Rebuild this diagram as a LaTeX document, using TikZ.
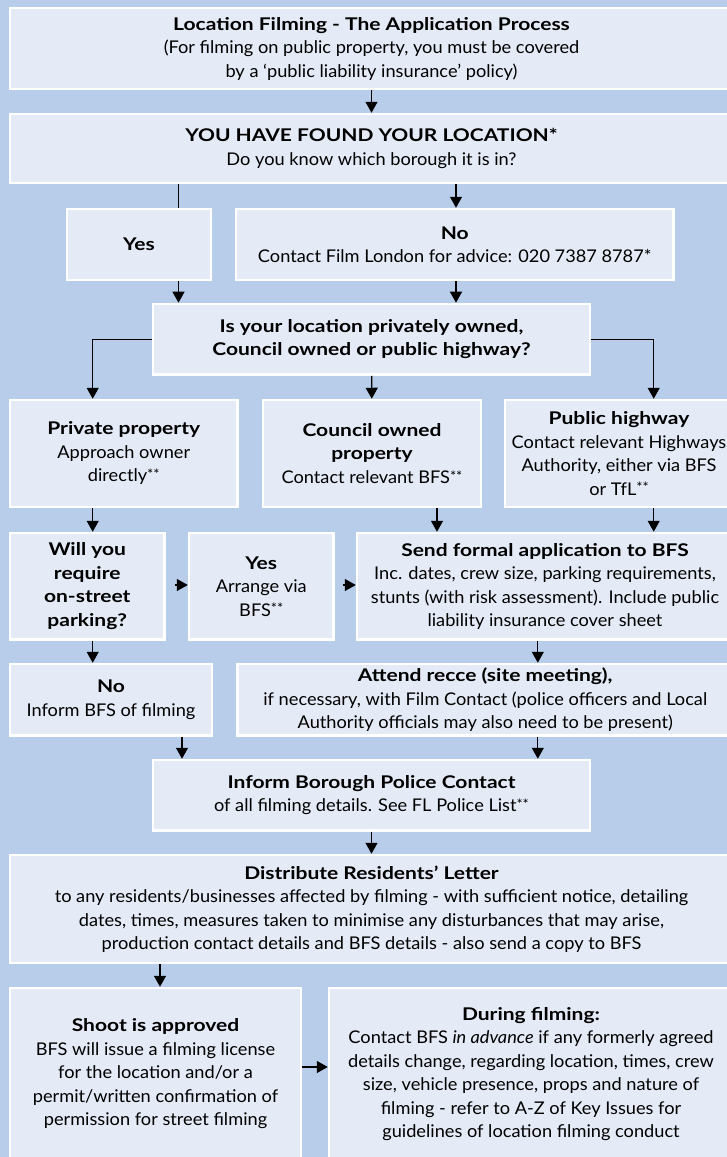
\documentclass[tikz,border=0pt]{standalone}
\usepackage{fontspec}
\setmainfont{Lato}[FakeStretch=1.04, BoldFeatures={FakeStretch=1.2}]
\usepackage{tikz}
\usetikzlibrary{arrows.meta, calc}
\usepackage{xcolor}
\definecolor{bgblue}{RGB}{184,205,234}
\definecolor{boxfill}{RGB}{228,234,246}
\newcommand{\fnmk}{\raisebox{0.25ex}{\fontsize{14}{14}\selectfont **}}

\begin{document}
\begin{tikzpicture}[
    x=1pt, y=-1pt,
    box/.style={draw=white, line width=2.5pt, fill=boxfill, align=center, inner sep=0pt,
        font=\fontsize{17.5}{23.5}\selectfont},
    line/.style={line width=1.3pt},
    arr/.style={-{Triangle[length=11pt, width=12pt]}, line width=1.3pt}
]
\path[use as bounding box, fill=bgblue] (0,0) rectangle (727,1157);
\clip (0,0) rectangle (727,1157);

\node[box, minimum width=723, minimum height=81] (title) at (371.5,48.5) {\textbf{Location Filming - The Application Process}\\(For filming on public property, you must be covered\\by a ‘public liability insurance’ policy)};
\node[box, minimum width=723, minimum height=69] (found) at (371.5,148.5) {\textbf{YOU HAVE FOUND YOUR LOCATION*}\\Do you know which borough it is in?};
\node[box, minimum width=144, minimum height=71] (yes) at (139,244.5) {\textbf{Yes}};
\node[box, minimum width=437.5, minimum height=71] (no) at (454.75,244.5) {\textbf{No}\\Contact Film London for advice: 020 7387 8787*};
\node[box, minimum width=437, minimum height=70.7] (question) at (371.5,339.3) {\textbf{Is your location privately owned,}\\\textbf{Council owned or public highway?}};
\node[box, minimum width=227.5, minimum height=107] (private) at (123.75,453.5) {\textbf{Private property}\\Approach owner\\directly\fnmk};
\node[box, minimum width=218, minimum height=107] (council) at (372,453.5) {\textbf{Council owned}\\\textbf{property}\\Contact relevant BFS\fnmk};
\node[box, minimum width=228, minimum height=107] (public) at (619,453.5) {\textbf{Public highway}\\Contact relevant Highways\\Authority, either via BFS\\or TfL\fnmk};
\node[box, minimum width=154.5, minimum height=106.5] (will) at (87.25,586.25) {\textbf{Will you}\\\textbf{require}\\\textbf{on-street}\\\textbf{parking?}};
\node[box, minimum width=144.5, minimum height=106.5] (yesbfs) at (261.25,586.25) {\textbf{Yes}\\Arrange via\\BFS\fnmk};
\node[box, minimum width=376, minimum height=106.5] (send) at (545,586.25) {\textbf{Send formal application to BFS}\\Inc. dates, crew size, parking requirements,\\stunts (with risk assessment). Include public\\liability insurance cover sheet};
\node[box, minimum width=202, minimum height=71.5] (nobfs) at (111,699.75) {\textbf{No}\\Inform BFS of filming};
\node[box, minimum width=495.5, minimum height=71.5] (recce) at (485.25,699.75) {\textbf{Attend recce (site meeting),}\\if necessary, with Film Contact (police officers and Local\\Authority officials may also need to be present)};
\node[box, minimum width=437, minimum height=70.5] (police) at (371.5,795.25) {\textbf{Inform Borough Police Contact}\\of all filming details. See FL Police List\fnmk};
\node[box, minimum width=723, minimum height=108] (letter) at (371.5,909) {\textbf{Distribute Residents’ Letter}\\to any residents/businesses affected by filming - with sufficient notice, detailing\\dates, times, measures taken to minimise any disturbances that may arise,\\production contact details and BFS details - also send a copy to BFS};
\node[box, minimum width=291, minimum height=172] (shoot) at (155.5,1074) {\textbf{Shoot is approved}\\BFS will issue a filming license\\for the location and/or a\\permit/written confirmation of\\permission for street filming};
\node[box, minimum width=404, minimum height=172] (during) at (531,1074) {\textbf{During filming:}\\Contact BFS \textit{in advance} if any formerly agreed\\details change, regarding location, times, crew\\size, vehicle presence, props and nature of\\filming - refer to A-Z of Key Issues for\\guidelines of location filming conduct};

\coordinate (colyes) at (178.5,0);
\coordinate (colno) at (456,0);
\coordinate (colpriv) at (92.7,0);
\coordinate (colcoun) at (437,0);
\coordinate (colpub) at (653.7,0);
\coordinate (colrec) at (537.8,0);
\coordinate (colnob) at (182,0);
\coordinate (colshoot) at (160,0);
\coordinate (rowpark) at (0,585);
\coordinate (wstart) at (175,0);
\coordinate (ystart) at (343,0);

\draw[arr] (title) -- (found);
\draw[line] (found.south -| colyes) -- (yes.north -| colyes);
\draw[arr] (found.south -| colno) -- (no.north -| colno);
\draw[arr] (yes.south -| colyes) -- (question.north -| colyes);
\draw[arr] (no.south -| colno) -- (question.north -| colno);
\draw[arr] (question.west) -| (private.north -| colpriv);
\draw[arr] (question) -- (council);
\draw[arr] (question.east) -| (public.north -| colpub);
\draw[arr] (private.south -| colpriv) -- (will.north -| colpriv);
\draw[arr] (council.south -| colcoun) -- (send.north -| colcoun);
\draw[arr] (public.south -| colpub) -- (send.north -| colpub);
\draw[arr] (wstart |- rowpark) -- (yesbfs.west |- rowpark);
\draw[arr] (ystart |- rowpark) -- (send.west |- rowpark);
\draw[arr] (will.south -| colpriv) -- (nobfs.north -| colpriv);
\draw[arr] (send.south -| colrec) -- (recce.north -| colrec);
\draw[arr] (nobfs.south -| colnob) -- (police.north -| colnob);
\draw[arr] (recce.south -| colrec) -- (police.north -| colrec);
\draw[arr] (police) -- (letter);
\draw[arr] (letter.south -| colshoot) -- (shoot.north -| colshoot);
\draw[arr] (shoot.east |- 0,1067) -- (during.west |- 0,1067);
\end{tikzpicture}
\end{document}
